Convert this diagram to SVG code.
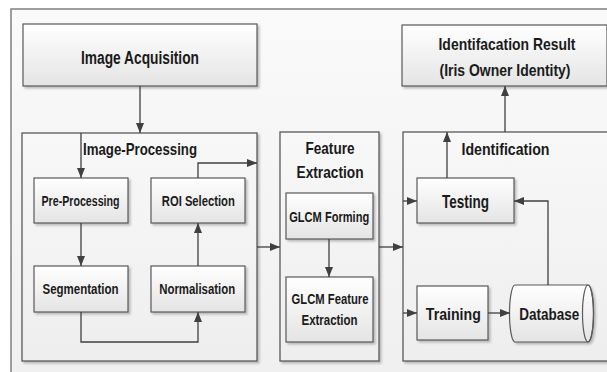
<svg xmlns="http://www.w3.org/2000/svg" width="607" height="372" viewBox="0 0 607 372">
<defs>
<linearGradient id="gBox" x1="0" y1="0" x2="0" y2="1"><stop offset="0" stop-color="#ffffff"/><stop offset="1" stop-color="#e4e4e4"/></linearGradient>
<linearGradient id="gCont" x1="0" y1="0" x2="0" y2="1"><stop offset="0" stop-color="#f8f8f8"/><stop offset="1" stop-color="#eeeeee"/></linearGradient>
<linearGradient id="gBg" x1="0" y1="0" x2="0" y2="1"><stop offset="0" stop-color="#fafafa"/><stop offset="1" stop-color="#efefef"/></linearGradient>
<filter id="sh" x="-10%" y="-10%" width="130%" height="130%"><feDropShadow dx="2" dy="2" stdDeviation="1" flood-color="#777" flood-opacity="0.45"/></filter>
<marker id="ah" viewBox="0 0 10 8" markerWidth="10" markerHeight="8" refX="10" refY="4" orient="auto" markerUnits="userSpaceOnUse"><path d="M0,0 L10,4 L0,8 Z" fill="#404040"/></marker>
</defs>
<style>
.box{fill:url(#gBox);stroke:#595959;stroke-width:1.2;filter:url(#sh)}
.cont{fill:url(#gCont);stroke:#595959;stroke-width:1.3;filter:url(#sh)}
.t{font-family:"Liberation Sans",Arial,sans-serif;font-weight:bold;fill:#1a1a1a;text-anchor:middle}
.c{fill:none;stroke:#404040;stroke-width:1.3;marker-end:url(#ah)}
</style>
<rect x="11" y="9" width="620" height="390" fill="url(#gBg)" stroke="#808080" stroke-width="1.5"/>

<g id="image-acquisition">
<rect class="box" x="23" y="24" width="234" height="62"/>
<text class="t" x="140" y="63.5" font-size="18" textLength="118" lengthAdjust="spacingAndGlyphs">Image Acquisition</text>
</g>
<g id="identification-result">
<rect class="box" x="402" y="25" width="205" height="61"/>
<text class="t" x="507" y="49.5" font-size="16.5" textLength="137" lengthAdjust="spacingAndGlyphs">Identifacation Result</text>
<text class="t" x="505" y="76" font-size="16.5" textLength="131" lengthAdjust="spacingAndGlyphs">(Iris Owner Identity)</text>
</g>
<g id="image-processing">
<rect class="cont" x="22" y="133" width="235" height="228"/>
<text class="t" x="140" y="155" font-size="17" textLength="114" lengthAdjust="spacingAndGlyphs">Image-Processing</text>
</g>
<g id="feature-extraction">
<rect class="cont" x="280" y="132" width="99" height="229"/>
<text class="t" x="330" y="153.5" font-size="16.5" textLength="49" lengthAdjust="spacingAndGlyphs">Feature</text>
<text class="t" x="330" y="177.5" font-size="16.5" textLength="67" lengthAdjust="spacingAndGlyphs">Extraction</text>
</g>
<g id="identification">
<rect class="cont" x="403" y="132" width="205" height="229"/>
<text class="t" x="505.5" y="154.5" font-size="16.5" textLength="88" lengthAdjust="spacingAndGlyphs">Identification</text>
</g>
<g id="pre-processing">
<rect class="box" x="34" y="178" width="94" height="45"/>
<text class="t" x="80.5" y="206" font-size="14" textLength="78" lengthAdjust="spacingAndGlyphs">Pre-Processing</text>
</g>
<g id="roi-selection">
<rect class="box" x="151" y="178" width="94" height="45"/>
<text class="t" x="198.3" y="206" font-size="14" textLength="73" lengthAdjust="spacingAndGlyphs">ROI Selection</text>
</g>
<g id="segmentation">
<rect class="box" x="34" y="266" width="94" height="46"/>
<text class="t" x="80.5" y="294" font-size="14.5" textLength="76" lengthAdjust="spacingAndGlyphs">Segmentation</text>
</g>
<g id="normalisation">
<rect class="box" x="151" y="266" width="94" height="46"/>
<text class="t" x="197.2" y="294" font-size="14.5" textLength="76" lengthAdjust="spacingAndGlyphs">Normalisation</text>
</g>
<g id="glcm-forming">
<rect class="box" x="286" y="193" width="87" height="46"/>
<text class="t" x="329.2" y="221.5" font-size="14.5" textLength="80" lengthAdjust="spacingAndGlyphs">GLCM Forming</text>
</g>
<g id="glcm-feature-extraction">
<rect class="box" x="286" y="277" width="87" height="65"/>
<text class="t" x="330" y="304.3" font-size="14.5" textLength="77" lengthAdjust="spacingAndGlyphs">GLCM Feature</text>
<text class="t" x="329.5" y="325" font-size="14.5" textLength="56" lengthAdjust="spacingAndGlyphs">Extraction</text>
</g>
<g id="testing">
<rect class="box" x="417" y="178" width="97" height="45"/>
<text class="t" x="465.4" y="208.3" font-size="18.5" textLength="47" lengthAdjust="spacingAndGlyphs">Testing</text>
</g>
<g id="training">
<rect class="box" x="417" y="286" width="71" height="54"/>
<text class="t" x="453.3" y="320" font-size="17" textLength="55" lengthAdjust="spacingAndGlyphs">Training</text>
</g>
<g id="database">
<path d="M515,285 L588,285 A5.5,28.5 0 0 1 588,342 L515,342 A5.5,28.5 0 0 1 515,285 Z" fill="url(#gBox)" stroke="#595959" stroke-width="1.2" filter="url(#sh)"/>
<ellipse cx="588" cy="313.5" rx="5.5" ry="28.5" fill="none" stroke="#595959" stroke-width="1.2"/>
<text class="t" x="549.2" y="320" font-size="17" textLength="60" lengthAdjust="spacingAndGlyphs">Database</text>
</g>

<g id="connectors">
<path class="c" d="M140,86 V133"/>
<path class="c" d="M81,133 V178"/>
<path class="c" d="M81,223 V266"/>
<path class="c" d="M81,312 V342 H198 V312"/>
<path class="c" d="M198,266 V223"/>
<path class="c" d="M198,178 V163 H257"/>
<path class="c" d="M257,247 H280"/>
<path class="c" d="M329,239 V277"/>
<path class="c" d="M379,247 H403"/>
<path class="c" d="M403,201 H417"/>
<path class="c" d="M403,313 H417"/>
<path class="c" d="M488,313 H510"/>
<path class="c" d="M548,285 V201 H514"/>
<path class="c" d="M447,178 V132"/>
<path class="c" d="M505,132 V86"/>
</g>
</svg>
